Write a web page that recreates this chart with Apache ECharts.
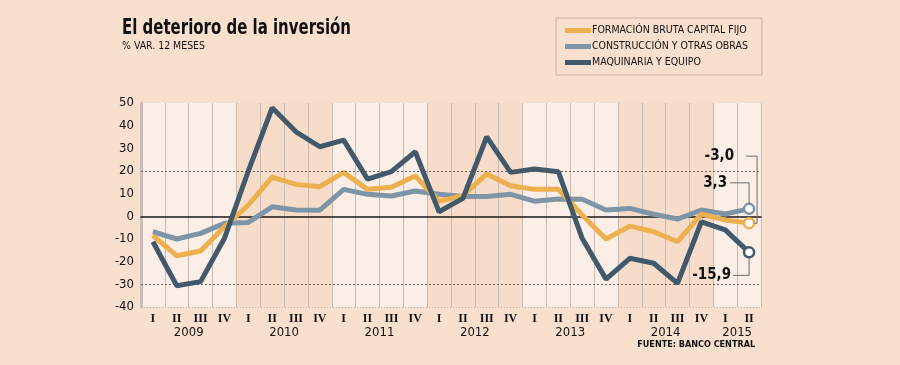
<!DOCTYPE html>
<html><head><meta charset="utf-8">
<script src="https://cdn.jsdelivr.net/npm/echarts@6/dist/echarts.min.js"></script>
<style>html,body{margin:0;padding:0;background:#F8DFCE}#c{width:900px;height:365px}</style>
</head><body><div id="c"></div>
<script>
const categories = ['2009-I','2009-II','2009-III','2009-IV','2010-I','2010-II','2010-III','2010-IV','2011-I','2011-II','2011-III','2011-IV','2012-I','2012-II','2012-III','2012-IV','2013-I','2013-II','2013-III','2013-IV','2014-I','2014-II','2014-III','2014-IV','2015-I','2015-II'];
const years = ['2009','2010','2011','2012','2013','2014','2015'];
const yTicks = [-40,-30,-20,-10,0,10,20,30,40,50];
const formacion = [-8.5,-17.4,-15.3,-4.6,5.0,17.3,14.1,13.1,19.4,11.9,12.8,17.8,6.7,9.1,18.7,13.5,11.9,11.9,0.6,-10.0,-4.3,-6.8,-11.2,1.0,-1.6,-3.0];
const construccion = [-6.8,-10.0,-7.5,-3.1,-2.7,4.2,2.8,2.7,11.9,9.7,9.0,11.2,9.7,8.7,8.7,9.7,6.7,7.6,7.5,2.8,3.5,0.9,-1.2,2.8,1.0,3.3];
const maquinaria = [-11.2,-30.6,-28.8,-9.7,20.0,47.9,37.3,30.7,33.6,16.4,19.7,28.5,2.0,7.9,35.1,19.4,20.9,19.7,-9.7,-27.7,-18.5,-20.7,-29.6,-2.4,-6.0,-15.9];
const seriesNames = ['FORMACIÓN BRUTA CAPITAL FIJO','CONSTRUCCIÓN Y OTRAS OBRAS','MAQUINARIA Y EQUIPO'];
const endLabels = ['-3,0','3,3','-15,9'];
const titleText = 'El deterioro de la inversión';
const subtitleText = '% VAR. 12 MESES';

const C_OR = '#EDB04F', C_GR = '#7D95A7', C_DK = '#42596C';
const NARROW = "'Liberation Sans Narrow','DejaVu Sans Condensed',sans-serif";
const LIGHT = '#FBEEE6', DARK = '#F7DCCA';

const chart = echarts.init(document.getElementById('c'), null, {renderer:'canvas'});
const last = categories.length - 1;
function sym(color){
  return {
    symbol:'circle',
    symbolSize:(v,p)=> p.dataIndex===last ? 10 : 0,
    showSymbol:true,
    itemStyle:{color:'#fff', borderColor:color, borderWidth:2.5}
  };
}
const option = {
  backgroundColor:'#F8DFCE',
  animation:false,
  legend:{
    orient:'vertical', left:556, top:18,
    borderColor:'#C4B3A6', borderWidth:1, padding:[7,14,7,9],
    itemGap:5, itemWidth:26, itemHeight:5, icon:'rect',
    textStyle:{fontFamily:NARROW, fontSize:10.5, color:'#111', padding:[0,0,0,-4]},
    data:[
      {name:seriesNames[0], itemStyle:{color:C_OR, borderWidth:0}},
      {name:seriesNames[1], itemStyle:{color:C_GR, borderWidth:0}},
      {name:seriesNames[2], itemStyle:{color:C_DK, borderWidth:0}}
    ]
  },
  grid:{left:141, right:139, top:103, bottom:58},
  xAxis:{
    type:'category', data:categories, boundaryGap:true,
    axisLine:{show:true, onZero:true, lineStyle:{color:'#1a1a1a', width:1.5}},
    axisTick:{show:false},
    axisLabel:{interval:0, margin:6, formatter:v=>v.split('-')[1],
      fontFamily:"'Liberation Serif','DejaVu Serif',serif", fontWeight:'bold', fontSize:12, color:'#111'},
    splitLine:{show:true, interval:0, lineStyle:{color:'#C9BBB1', width:1}},
    splitArea:{show:true, interval:0, areaStyle:{color:[LIGHT,LIGHT,LIGHT,LIGHT,DARK,DARK,DARK,DARK]}}
  },
  yAxis:{
    type:'value', min:-40, max:50, interval:10,
    axisLine:{show:true, lineStyle:{color:'#C8BEB6', width:3}},
    axisTick:{show:false},
    axisLabel:{margin:7, fontFamily:"'DejaVu Sans Condensed','Liberation Sans',sans-serif", fontSize:13, color:'#111',
      formatter:v=> yTicks.includes(v) ? String(v) : ''},
    splitLine:{show:true, lineStyle:{color:'#BFAFA3', width:1, type:[1,2]}}
  },
  series:[
    Object.assign({name:seriesNames[1], type:'line', data:construccion, z:3,
      lineStyle:{color:C_GR, width:5}, color:C_GR,
      markLine:{silent:true, symbol:'none', label:{show:false},
        lineStyle:{color:'#6e625a', width:1, type:[2,2]},
        data:[{yAxis:20},{yAxis:-30}]}}, sym(C_GR)),
    Object.assign({name:seriesNames[0], type:'line', data:formacion, z:4,
      lineStyle:{color:C_OR, width:5}, color:C_OR}, sym(C_OR)),
    Object.assign({name:seriesNames[2], type:'line', data:maquinaria, z:5,
      lineStyle:{color:C_DK, width:5}, color:C_DK}, sym(C_DK))
  ]
};
chart.setOption(option);

const mctx = document.createElement('canvas').getContext('2d');
function fitScale(font, text, target){ mctx.font = font; return target / mctx.measureText(text).width; }

const g = [];
// titles, condensed to the reference width
const tFont = "bold 21px 'DejaVu Sans Condensed','DejaVu Sans',sans-serif";
g.push({type:'text', x:122, y:18, scaleX:fitScale(tFont, titleText, 229), z:10,
  style:{text:titleText, x:0, y:0, align:'left', verticalAlign:'top', font:tFont, fill:'#111'}});
const sFont = "11px 'DejaVu Sans Condensed','DejaVu Sans',sans-serif";
g.push({type:'text', x:122, y:41, scaleX:fitScale(sFont, subtitleText, 83), z:10,
  style:{text:subtitleText, x:0, y:0, align:'left', verticalAlign:'top', font:sFont, fill:'#111'}});

// annotations derived from the axes
const pOr = chart.convertToPixel({seriesIndex:1}, [last, formacion[last]]);
const pGr = chart.convertToPixel({seriesIndex:0}, [last, construccion[last]]);
const pDk = chart.convertToPixel({seriesIndex:2}, [last, maquinaria[last]]);
const lc = '#6b6b6b';
const labelFont = "bold 15px 'DejaVu Sans Condensed','DejaVu Sans',sans-serif";
g.push({type:'polyline', silent:true, z:10, shape:{points:[[pOr[0]-3,pOr[1]-67],[pOr[0]+8,pOr[1]-67],[pOr[0]+8,pOr[1]],[pOr[0]+5,pOr[1]]]}, style:{stroke:lc, lineWidth:1, fill:null}});
g.push({type:'text', z:10, style:{text:endLabels[0], x:pOr[0]-15, y:pOr[1]-67, align:'right', verticalAlign:'middle', font:labelFont, fill:'#111'}});
g.push({type:'polyline', silent:true, z:10, shape:{points:[[pGr[0]-19,pGr[1]-26],[pGr[0],pGr[1]-26],[pGr[0],pGr[1]-5]]}, style:{stroke:lc, lineWidth:1, fill:null}});
g.push({type:'text', z:10, style:{text:endLabels[1], x:pGr[0]-22, y:pGr[1]-26, align:'right', verticalAlign:'middle', font:labelFont, fill:'#111'}});
g.push({type:'polyline', silent:true, z:10, shape:{points:[[pDk[0]-16,pDk[1]+23],[pDk[0],pDk[1]+23],[pDk[0],pDk[1]+5]]}, style:{stroke:lc, lineWidth:1, fill:null}});
g.push({type:'text', z:10, style:{text:endLabels[2], x:pDk[0]-18, y:pDk[1]+23, align:'right', verticalAlign:'middle', font:labelFont, fill:'#111'}});
// year labels
const yBase = chart.convertToPixel({yAxisIndex:0}, -40);
years.forEach(y=>{
  const idx = categories.map((c,i)=>c.startsWith(y)?i:-1).filter(i=>i>=0);
  const x0 = chart.convertToPixel({xAxisIndex:0}, idx[0]);
  const x1 = chart.convertToPixel({xAxisIndex:0}, idx[idx.length-1]);
  g.push({type:'text', z:10, style:{text:y, x:(x0+x1)/2, y:yBase+26, align:'center', verticalAlign:'middle',
    font:"13px 'DejaVu Sans Condensed','Liberation Sans',sans-serif", fill:'#111'}});
});
const xr = chart.convertToPixel({xAxisIndex:0}, last);
g.push({type:'text', z:10, style:{text:'FUENTE: BANCO CENTRAL', x:xr+6, y:yBase+38, align:'right', verticalAlign:'middle',
  font:"bold 9px 'Liberation Sans Narrow','DejaVu Sans Condensed',sans-serif", fill:'#111'}});
chart.setOption({graphic:g});
</script></body></html>
